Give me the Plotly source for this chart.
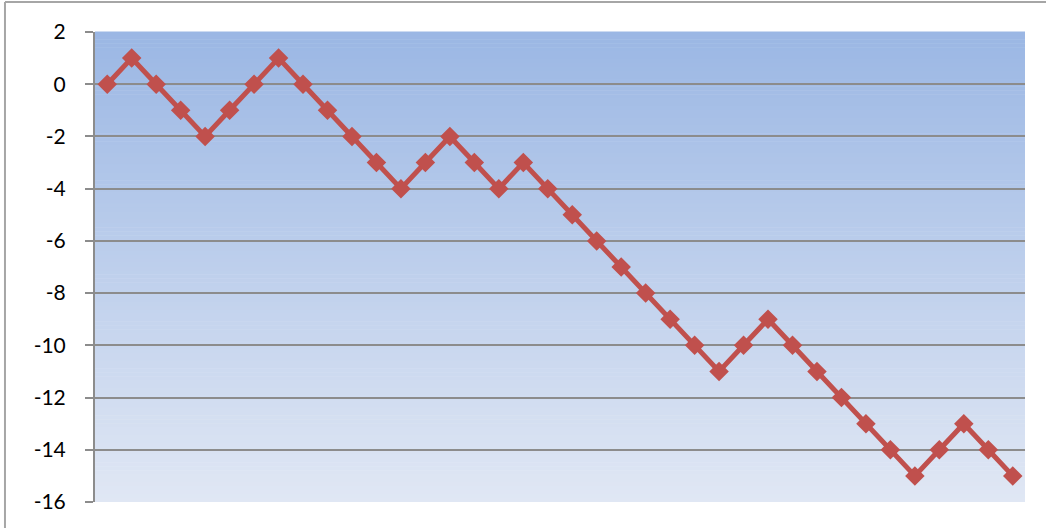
import plotly.graph_objects as go

categories = list(range(1, 39))
values = [0, 1, 0, -1, -2, -1, 0, 1, 0, -1,
          -2, -3, -4, -3, -2, -3, -4, -3, -4, -5,
          -6, -7, -8, -9, -10, -11, -10, -9, -10, -11,
          -12, -13, -14, -15, -14, -13, -14, -15]
y_ticks = [2, 0, -2, -4, -6, -8, -10, -12, -14, -16]

fig = go.Figure()
fig.add_trace(go.Scatter(
    x=categories, y=values, mode="lines+markers",
    line=dict(color="#C0504D", width=5),
    marker=dict(symbol="diamond", size=15, color="#C0504D"),
    showlegend=False,
))

# gradient background
shapes = []
n = 120
top = (155, 183, 228)
bot = (224, 231, 244)
for i in range(n):
    t = i / (n - 1)
    c = tuple(round(top[k] + (bot[k] - top[k]) * t) for k in range(3))
    shapes.append(dict(type="rect", xref="paper", yref="paper",
                       x0=0, x1=1, y0=1 - (i + 1) / n, y1=1 - i / n + 0.001,
                       fillcolor="rgb(%d,%d,%d)" % c, line=dict(width=0),
                       layer="below"))
# outer chart border
shapes.append(dict(type="line", xref="paper", yref="paper",
                   x0=-0.0968, x1=-0.0968, y0=-0.2, y1=1.0638,
                   line=dict(color="#A6A6A6", width=2)))
shapes.append(dict(type="line", xref="paper", yref="paper",
                   x0=-0.0968, x1=1.2, y0=1.0638, y1=1.0638,
                   line=dict(color="#A6A6A6", width=2)))

fig.update_layout(
    width=1046, height=528,
    margin=dict(l=95, r=21, t=32, b=26),
    paper_bgcolor="white", plot_bgcolor="white",
    shapes=shapes,
    font=dict(family="Lato, Liberation Sans, Arial, sans-serif", size=21, color="black"),
    xaxis=dict(range=[0.5, 38.5], showticklabels=False, showgrid=False,
               zeroline=False, showline=False, ticks=""),
    yaxis=dict(range=[-16, 2], tickvals=y_ticks, ticktext=[str(v) for v in y_ticks],
               showgrid=True, gridcolor="#8C8C8C", gridwidth=2, zeroline=False,
               showline=True, linecolor="#8C8C8C", linewidth=2,
               ticks="outside", ticklen=8, tickcolor="#8C8C8C", tickwidth=2,
               ticklabelstandoff=15),
)
fig.write_html("out.html", config={"displayModeBar": False},
               post_script="document.body.style.margin='0';document.body.style.padding='0';")
